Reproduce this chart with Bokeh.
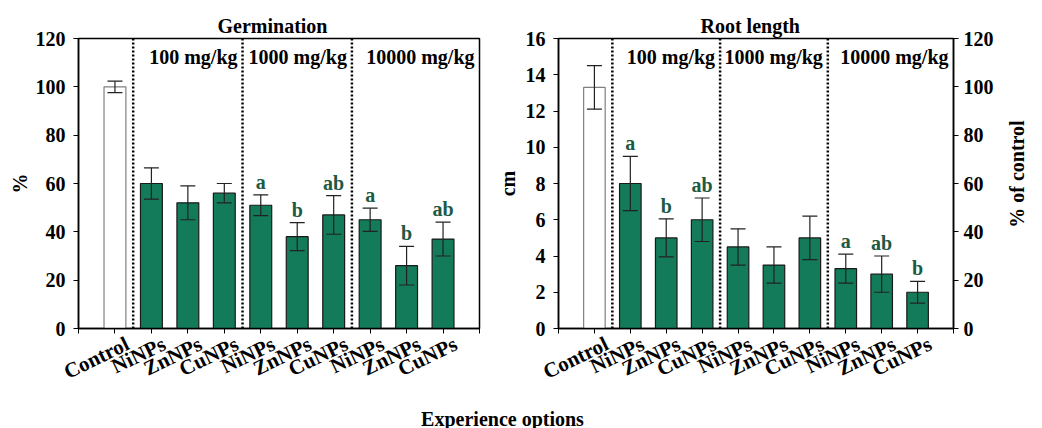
import math
from bokeh.plotting import figure
from bokeh.models import (ColumnDataSource, Range1d, LinearAxis, FixedTicker,
                          Whisker, TeeHead)
from bokeh.layouts import row, column
from bokeh.embed import file_html
from bokeh.resources import INLINE
from bokeh.core.properties import value

# ---------------- data ----------------
categories = ["Control", "NiNPs", "ZnNPs", "CuNPs", "NiNPs", "ZnNPs", "CuNPs",
              "NiNPs", "ZnNPs", "CuNPs"]
dose_groups = ["100 mg/kg", "1000 mg/kg", "10000 mg/kg"]
group_size = 3

germ_mean = [100, 60, 52, 56, 51, 38, 47, 45, 26, 37]
germ_err = [2.4, 6.5, 7.0, 4.0, 4.3, 5.8, 8.0, 4.8, 8.0, 7.0]
germ_letters = ["", "", "", "", "a", "b", "ab", "a", "b", "ab"]

root_mean = [13.3, 8.0, 5.0, 6.0, 4.5, 3.5, 5.0, 3.3, 3.0, 2.0]
root_err = [1.2, 1.5, 1.05, 1.2, 1.0, 1.0, 1.2, 0.8, 1.0, 0.6]
root_letters = ["", "a", "b", "ab", "", "", "", "a", "ab", "b"]

germ_ticks = [0, 20, 40, 60, 80, 100, 120]
root_ticks = [0, 2, 4, 6, 8, 10, 12, 14, 16]
pct_ticks = [0, 20, 40, 60, 80, 100, 120]

# ---------------- style ----------------
FONT = "Liberation Serif"
FS = "20px"
XFS = "21px"
GREEN = "#137a5a"
LETTER = "#1c5a44"
ANGLE = math.radians(26)
LABEL_SHIFT = 0.35   # category-label shift (category units) to the right
PCT_TITLE_AT = 41.7  # where the rotated "% of control" title starts (axis units)
PH = 398             # panel height
BB = 70              # panel bottom border


def style_axis(ax):
    ax.axis_line_color = "black"
    ax.axis_line_width = 1.5
    ax.major_tick_line_color = "black"
    ax.major_tick_in = 0
    ax.major_tick_out = 5
    ax.minor_tick_line_color = None
    ax.major_label_text_font = FONT
    ax.major_label_text_font_size = FS
    ax.major_label_text_font_style = "bold"
    ax.major_label_text_color = "black"
    ax.axis_label_text_font = FONT
    ax.axis_label_text_font_size = FS
    ax.axis_label_text_font_style = "bold"
    ax.axis_label_text_color = "black"


def panel(title, mean, err, letters, ymax, yticks, ylabel, width, mbl, mbr, toff,
          ylab_standoff):
    n = len(categories)
    xs = list(range(1, n + 1))
    fills = ["white"] + [GREEN] * (n - 1)
    lines = ["#808080"] + ["#1a1a1a"] * (n - 1)
    src = ColumnDataSource(dict(
        x=xs, top=mean, fill=fills, line=lines,
        upper=[m + e for m, e in zip(mean, err)],
        lower=[m - e for m, e in zip(mean, err)],
    ))
    p = figure(width=width, height=PH, output_backend="svg", toolbar_location=None,
               x_range=Range1d(0, n + 1), y_range=Range1d(0, ymax),
               min_border_left=mbl, min_border_right=mbr,
               min_border_top=38, min_border_bottom=BB,
               title=title)
    p.title.align = "left"
    p.title.offset = toff
    p.title.text_font = FONT
    p.title.text_font_size = FS
    p.title.text_font_style = "bold"
    p.title.text_color = "black"
    p.title.standoff = 3
    p.grid.visible = False
    p.outline_line_color = "black"
    p.outline_line_width = 1.5
    p.background_fill_color = "white"
    p.border_fill_color = "white"

    p.vbar(x="x", top="top", width=0.6, source=src, fill_color="fill",
           line_color="line", line_width=1.2)
    w = Whisker(source=src, base="x", upper="upper", lower="lower",
                line_color="#222222", line_width=1.2, level="overlay",
                upper_head=TeeHead(size=15, line_color="#222222", line_width=1.2),
                lower_head=TeeHead(size=15, line_color="#222222", line_width=1.2))
    p.add_layout(w)

    # significance letters
    lsrc = ColumnDataSource(dict(
        x=xs, y=[m + e + ymax * 0.045 for m, e in zip(mean, err)], t=letters))
    p.text(x="x", y="y", text="t", source=lsrc, text_align="center",
           text_baseline="middle", text_font=value(FONT), text_font_size=FS,
           text_font_style="bold", text_color=LETTER)

    # dose group dividers and labels
    bounds = [1 + group_size * i + 0.5 for i in range(len(dose_groups))]
    ends = bounds[1:] + [n + 1]
    p.segment(x0=bounds, y0=[0] * len(bounds), x1=bounds, y1=[ymax] * len(bounds),
              line_color="black", line_width=2.5, line_dash="2 2")
    p.text(x=ends, y=[ymax * 0.935] * len(ends), text=dose_groups,
           text_align="right", text_baseline="middle", x_offset=-5,
           text_font=value(FONT), text_font_size=FS, text_font_style="bold",
           text_color="black")

    # tick axis (true range, no labels)
    xa = p.xaxis[0]
    xa.ticker = FixedTicker(ticks=list(range(0, n + 2)))
    xa.major_label_overrides = {i: "" for i in range(0, n + 2)}
    style_axis(xa)
    xa.major_label_standoff = 0
    xa.major_label_text_font_size = "1px"

    # label axis (slightly shifted range, labels only)
    p.extra_x_ranges = {"lab": Range1d(-LABEL_SHIFT, n + 1 - LABEL_SHIFT)}
    la = LinearAxis(x_range_name="lab", ticker=FixedTicker(ticks=xs),
                    major_label_overrides={i + 1: c for i, c in enumerate(categories)})
    style_axis(la)
    la.axis_line_color = None
    la.major_tick_line_color = None
    la.major_tick_out = 0
    la.major_label_standoff = 9
    la.major_label_text_font_size = XFS
    la.major_label_orientation = ANGLE
    p.add_layout(la, "below")

    ya = p.yaxis[0]
    ya.ticker = FixedTicker(ticks=yticks)
    ya.axis_label = ylabel
    style_axis(ya)
    ya.major_label_standoff = 8
    ya.axis_label_standoff = ylab_standoff
    return p


W1 = 493
p1 = panel("Germination", germ_mean, germ_err, germ_letters, 120, germ_ticks, "%",
           W1, 78, W1 - 479, 139, 2)
p2 = panel("Root length", root_mean, root_err, root_letters, 16, root_ticks, "cm",
           1042 - W1, 554 - W1, 1042 - 955, 142, 4)

# secondary axis: % of control
p2.extra_y_ranges = {"pct": Range1d(0, 120)}
ra = LinearAxis(y_range_name="pct", ticker=FixedTicker(ticks=pct_ticks))
style_axis(ra)
ra.major_label_standoff = 5
p2.add_layout(ra, "right")

# title of the secondary axis, reading bottom-to-top
rl = LinearAxis(y_range_name="pct", ticker=FixedTicker(ticks=[PCT_TITLE_AT]),
                major_label_overrides={PCT_TITLE_AT: "% of control"})
style_axis(rl)
rl.axis_line_color = None
rl.major_tick_line_color = None
rl.major_tick_out = 0
rl.major_label_standoff = 21
rl.major_label_orientation = math.pi / 2
p2.add_layout(rl, "right")

# common x axis title
BH = 428 - PH
p3 = figure(width=1042, height=BH, output_backend="svg", toolbar_location=None,
            x_range=Range1d(0, 1042), y_range=Range1d(0, BH),
            min_border=0, min_border_left=0, min_border_right=0,
            min_border_top=0, min_border_bottom=0)
p3.axis.visible = False
p3.grid.visible = False
p3.outline_line_color = None
p3.text(x=[502], y=[BH - 20], text=["Experience options"], text_align="center",
        text_baseline="middle", text_font=value(FONT), text_font_size=FS,
        text_font_style="bold", text_color="black")

layout = column(row(p1, p2), p3)
open("out.html", "w").write(file_html(layout, INLINE))
